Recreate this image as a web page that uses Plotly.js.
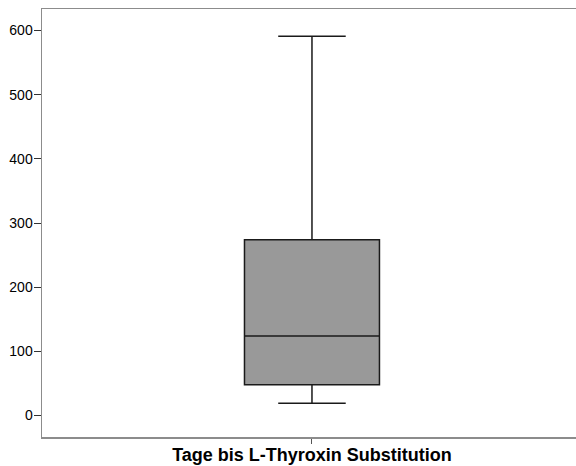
<!DOCTYPE html>
<html>
<head>
<meta charset="utf-8">
<script src="https://cdn.plot.ly/plotly-3.0.1.min.js"></script>
<style>html,body{margin:0;padding:0;background:#fff;overflow:hidden}</style>
</head>
<body>
<div id="chart" style="width:576px;height:466px"></div>
<script>
const categories = ["Tage bis L-Thyroxin Substitution"];
const lowerWhisker = [19];
const q1 = [48];
const median = [124];
const q3 = [274];
const upperWhisker = [591];
const yTicks = [0, 100, 200, 300, 400, 500, 600];

const trace = {
  type: 'box',
  x: categories,
  q1: q1,
  median: median,
  q3: q3,
  lowerfence: lowerWhisker,
  upperfence: upperWhisker,
  fillcolor: '#999999',
  line: {color: '#1a1a1a', width: 1.5},
  width: 0.25,
  whiskerwidth: 0.5,
  boxpoints: false,
  hoverinfo: 'skip'
};

const layout = {
  width: 576,
  height: 466,
  margin: {l: 42, r: 0, t: 9, b: 29},
  paper_bgcolor: '#ffffff',
  plot_bgcolor: '#ffffff',
  showlegend: false,
  font: {family: 'Liberation Sans, Arial, sans-serif', color: '#000'},
  xaxis: {
    type: 'category',
    range: [-0.5, 0.489],
    showline: true, mirror: true, linecolor: '#8c8c8c', linewidth: 1.5,
    showgrid: false, zeroline: false,
    ticks: 'outside', ticklen: 5, tickcolor: '#555', tickwidth: 1,
    ticklabelstandoff: -4,
    tickfont: {size: 18, weight: 'bold', color: '#000'}
  },
  yaxis: {
    range: [-33.5, 633.5],
    tickvals: yTicks,
    ticktext: yTicks.map(String),
    showline: true, mirror: false, linecolor: '#8c8c8c', linewidth: 1.5,
    showgrid: false, zeroline: false,
    ticks: 'outside', ticklen: 7, tickcolor: '#333', tickwidth: 1,
    ticklabelstandoff: -2,
    tickfont: {size: 14, color: '#000'}
  }
};

Plotly.newPlot('chart', [trace], layout, {staticPlot: true, displayModeBar: false});
</script>
</body>
</html>
